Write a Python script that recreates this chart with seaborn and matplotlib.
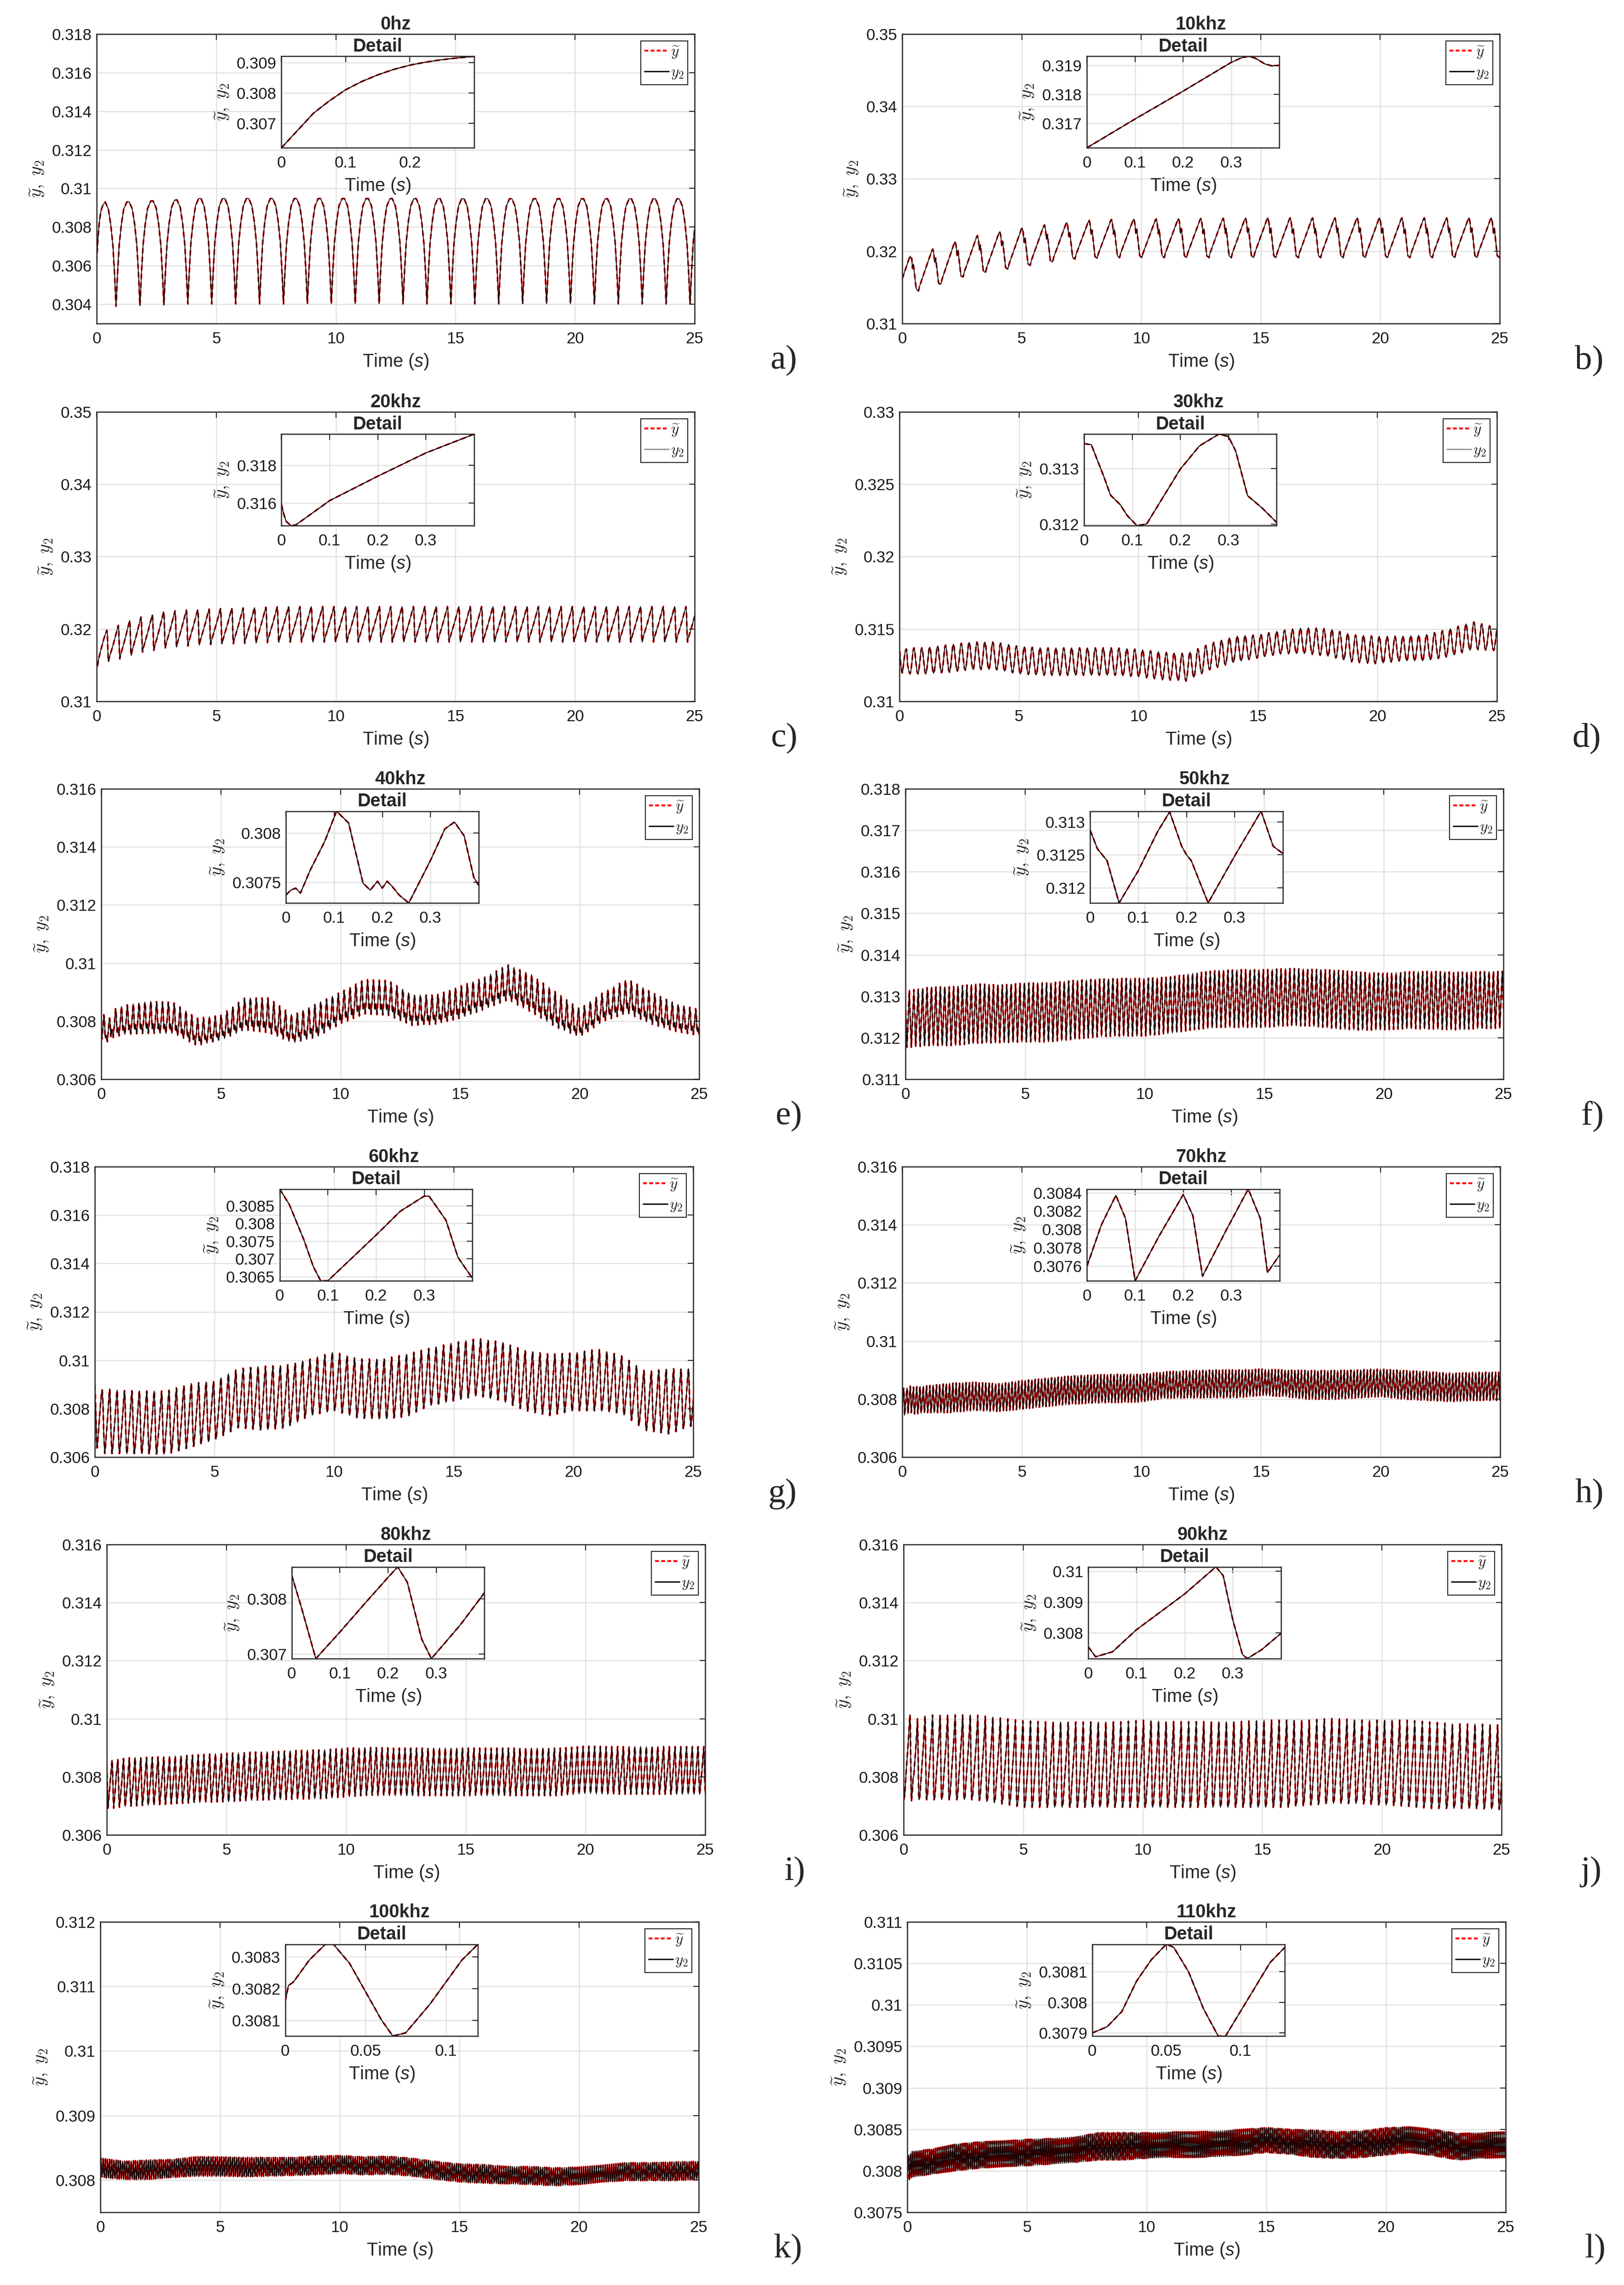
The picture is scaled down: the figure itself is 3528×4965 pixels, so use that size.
import numpy as np
import seaborn as sns
import matplotlib.pyplot as plt
from matplotlib.lines import Line2D
from matplotlib.ticker import FixedLocator, FuncFormatter

W, H, DPI = 3528, 4965, 300

titles = ['0hz', '10khz', '20khz', '30khz', '40khz', '50khz',
          '60khz', '70khz', '80khz', '90khz', '100khz', '110khz']
letters = ['a)', 'b)', 'c)', 'd)', 'e)', 'f)', 'g)', 'h)', 'i)', 'j)', 'k)', 'l)']

# ---- main axis limits / ticks ----
main_ylims = [(0.303, 0.318), (0.31, 0.35), (0.31, 0.35), (0.31, 0.33),
              (0.306, 0.316), (0.311, 0.318), (0.306, 0.318), (0.306, 0.316),
              (0.306, 0.316), (0.306, 0.316), (0.3075, 0.312), (0.3075, 0.311)]
main_yticks = [[0.304, 0.306, 0.308, 0.31, 0.312, 0.314, 0.316, 0.318],
               [0.31, 0.32, 0.33, 0.34, 0.35],
               [0.31, 0.32, 0.33, 0.34, 0.35],
               [0.31, 0.315, 0.32, 0.325, 0.33],
               [0.306, 0.308, 0.31, 0.312, 0.314, 0.316],
               [0.311, 0.312, 0.313, 0.314, 0.315, 0.316, 0.317, 0.318],
               [0.306, 0.308, 0.31, 0.312, 0.314, 0.316, 0.318],
               [0.306, 0.308, 0.31, 0.312, 0.314, 0.316],
               [0.306, 0.308, 0.31, 0.312, 0.314, 0.316],
               [0.306, 0.308, 0.31, 0.312, 0.314, 0.316],
               [0.308, 0.309, 0.31, 0.311, 0.312],
               [0.3075, 0.308, 0.3085, 0.309, 0.3095, 0.31, 0.3105, 0.311]]
time_ticks = [0, 5, 10, 15, 20, 25]

# ---- oscillation envelopes ----
a_up_t = [0, 1.3, 2.3, 3.3, 4.3, 25]
a_up = [0.3093, 0.3093, 0.30935, 0.3094, 0.30948, 0.30946]
a_lo_t = [0, 0.8, 1.8, 2.8, 3.8, 25]
a_lo = [0.3039, 0.3039, 0.30392, 0.30395, 0.30402, 0.30402]

b_up_t = [0, 0.4, 1.4, 2.3, 3.2, 4.1, 5.0, 5.9, 7.0, 8.0, 9.0, 12, 15, 25]
b_up = [0.3195, 0.3195, 0.3204, 0.3214, 0.3222, 0.3227, 0.3232, 0.3236, 0.324,
        0.3243, 0.3244, 0.3245, 0.3246, 0.3246]
b_lo_t = [0, 0.7, 1.7, 2.6, 3.4, 4.4, 5.3, 6.3, 7.2, 9, 25]
b_lo = [0.3145, 0.3145, 0.3155, 0.3165, 0.317, 0.3175, 0.318, 0.3185, 0.3189, 0.3191, 0.3191]

c_up_t = [0, 0.4, 0.9, 1.4, 1.9, 2.4, 2.8, 3.7, 5, 8, 25]
c_up = [0.3198, 0.3198, 0.3205, 0.3212, 0.3217, 0.322, 0.3224, 0.3226, 0.3228, 0.3231, 0.3231]
c_lo_t = [0, 0.5, 1, 1.5, 2, 2.5, 3, 4, 5, 8, 25]
c_lo = [0.3149, 0.3155, 0.3159, 0.3164, 0.3169, 0.3171, 0.3174, 0.3177, 0.3179, 0.3182, 0.3182]

seconds = list(range(26))
d_up = [0.3137, 0.3137, 0.3139, 0.3141, 0.3141, 0.3138, 0.3137, 0.3137, 0.3137, 0.3137,
        0.3136, 0.3134, 0.3133, 0.3140, 0.3145, 0.3146, 0.3149, 0.3151, 0.3150, 0.3146,
        0.3145, 0.3145, 0.3146, 0.3150, 0.3155, 0.3151]
d_lo = [0.3119, 0.3119, 0.3120, 0.3122, 0.3122, 0.3119, 0.3118, 0.3118, 0.3118, 0.3118,
        0.3117, 0.3115, 0.3114, 0.3122, 0.3127, 0.3130, 0.3133, 0.3133, 0.3131, 0.3127,
        0.3126, 0.3128, 0.3128, 0.3131, 0.3136, 0.3135]
e_up = [0.30825, 0.30855, 0.30868, 0.30865, 0.3081, 0.3082, 0.3088, 0.3088, 0.3082, 0.3086,
        0.3090, 0.30943, 0.3094, 0.3089, 0.3089, 0.3092, 0.3095, 0.30994, 0.3096, 0.3090,
        0.30842, 0.3090, 0.30945, 0.3090, 0.3086, 0.3084]
e_lo = [0.30732, 0.30755, 0.30758, 0.30758, 0.30716, 0.30735, 0.3077, 0.3076, 0.30725, 0.30745,
        0.3079, 0.30825, 0.3082, 0.30785, 0.3079, 0.3081, 0.3084, 0.30873, 0.3083, 0.3078,
        0.30745, 0.308, 0.30827, 0.3079, 0.30765, 0.3075]
f_up = [0.31311, 0.31322, 0.31323, 0.3133, 0.31327, 0.31332, 0.31332, 0.31338, 0.31341, 0.31343,
        0.31343, 0.31346, 0.31355, 0.31362, 0.31364, 0.31364, 0.31367, 0.31365, 0.31363, 0.31358,
        0.31355, 0.31359, 0.3136, 0.31358, 0.31359, 0.3136]
f_lo = [0.31176, 0.31181, 0.31181, 0.31187, 0.31188, 0.3119, 0.3119, 0.31196, 0.31202, 0.31204,
        0.31204, 0.3121, 0.31219, 0.31225, 0.31225, 0.31225, 0.31229, 0.31228, 0.31222, 0.31218,
        0.31219, 0.31222, 0.31221, 0.31219, 0.31222, 0.31223]
g_up = [0.30894, 0.30875, 0.30873, 0.30873, 0.30904, 0.30914, 0.30965, 0.30975, 0.3098, 0.31005,
        0.31035, 0.31005, 0.31005, 0.31025, 0.3105, 0.31073, 0.3109, 0.31075, 0.3104, 0.31025,
        0.3103, 0.31046, 0.3102, 0.30954, 0.30965, 0.30965]
g_lo = [0.30615, 0.30615, 0.30615, 0.30612, 0.30641, 0.30671, 0.30722, 0.30712, 0.30722, 0.30772,
        0.30792, 0.30762, 0.30757, 0.30767, 0.30813, 0.30833, 0.30854, 0.30833, 0.30792, 0.30772,
        0.30792, 0.30792, 0.30782, 0.30711, 0.30696, 0.30731]
h_up = [0.30837, 0.30845, 0.30854, 0.30858, 0.30852, 0.30863, 0.30871, 0.30879, 0.30883, 0.30885,
        0.30885, 0.30894, 0.30897, 0.309, 0.309, 0.30903, 0.309, 0.30898, 0.30898, 0.309,
        0.30903, 0.30898, 0.30894, 0.30888, 0.30892, 0.30892]
h_lo = [0.30744, 0.30753, 0.30753, 0.30761, 0.30757, 0.30765, 0.30774, 0.30782, 0.30786, 0.30788,
        0.3079, 0.30803, 0.30803, 0.30804, 0.30804, 0.30812, 0.30808, 0.30799, 0.30799, 0.30803,
        0.30808, 0.30799, 0.30795, 0.30791, 0.30795, 0.30795]
i_up = [0.30856, 0.30866, 0.30868, 0.30872, 0.30877, 0.30881, 0.30885, 0.30887, 0.30891, 0.30893,
        0.30899, 0.30901, 0.30899, 0.30899, 0.30899, 0.30899, 0.30899, 0.30899, 0.30899, 0.30899,
        0.30906, 0.30904, 0.30904, 0.30904, 0.30904, 0.30904]
i_lo = [0.30691, 0.30699, 0.30703, 0.30708, 0.30712, 0.30714, 0.30719, 0.30721, 0.30723, 0.30725,
        0.30731, 0.30737, 0.30735, 0.30735, 0.30735, 0.30735, 0.30735, 0.30735, 0.30735, 0.30735,
        0.30743, 0.3074, 0.3074, 0.3074, 0.3074, 0.3074]
j_up = [0.30982, 0.31013, 0.31013, 0.31013, 0.31003, 0.30993, 0.30989, 0.30989, 0.30989, 0.30989,
        0.30995, 0.3099, 0.3099, 0.3099, 0.3099, 0.30995, 0.30995, 0.30995, 0.31003, 0.30995,
        0.30995, 0.30995, 0.30989, 0.30982, 0.30982, 0.30978]
j_lo = [0.30721, 0.30721, 0.30721, 0.30721, 0.30708, 0.30695, 0.30695, 0.30695, 0.30695, 0.30695,
        0.30695, 0.30695, 0.30695, 0.30695, 0.30695, 0.30695, 0.30695, 0.30703, 0.30708, 0.30708,
        0.30703, 0.30699, 0.30691, 0.30691, 0.30691, 0.30687]
k_up = [0.30834, 0.30829, 0.30831, 0.30832, 0.30836, 0.30836, 0.30835, 0.30835, 0.30835, 0.30837,
        0.30838, 0.30836, 0.30837, 0.30834, 0.30829, 0.30825, 0.30824, 0.30821, 0.30821, 0.30819,
        0.3082, 0.30823, 0.30827, 0.30827, 0.30828, 0.30829]
k_lo = [0.30804, 0.30801, 0.30801, 0.30804, 0.30806, 0.30806, 0.30805, 0.30806, 0.30807, 0.30808,
        0.3081, 0.30808, 0.30809, 0.30806, 0.30801, 0.30797, 0.30795, 0.30794, 0.30793, 0.30791,
        0.30793, 0.30797, 0.30799, 0.30799, 0.30799, 0.30801]
l_up = [0.30823, 0.30826, 0.30832, 0.30835, 0.30836, 0.30838, 0.30839, 0.30841, 0.30846, 0.30846,
        0.30846, 0.30847, 0.30847, 0.30848, 0.3085, 0.30852, 0.3085, 0.30849, 0.30847, 0.30848,
        0.30852, 0.30853, 0.3085, 0.30845, 0.30846, 0.30847]
l_lo = [0.30791, 0.30796, 0.308, 0.30803, 0.30805, 0.30806, 0.30808, 0.3081, 0.30813, 0.30813,
        0.30815, 0.30816, 0.30816, 0.30817, 0.30819, 0.30822, 0.3082, 0.30816, 0.30815, 0.30816,
        0.30819, 0.30822, 0.30818, 0.30813, 0.30815, 0.30816]

# period (s) and time of first trough, counted on each panel
periods = [1.0, 0.935, 0.4747, 0.33, 0.245, 0.185, 0.31, 0.1375, 0.24, 0.315, 0.09, 0.08]
first_trough = [0.81, 0.68, 0.02, 0.11, 0.01, 0.06, 0.09, 0.10, 0.05, 0.015, 0.068, 0.085]

# one cycle's shape (phase from trough, level between lower and upper envelope)
a_shape_ph = [0, 0.06, 0.13, 0.22, 0.32, 0.45, 0.55, 0.68, 0.78, 0.87, 0.94, 1.0]
a_shape_lv = [0, 0.3, 0.58, 0.78, 0.93, 1.0, 1.0, 0.93, 0.78, 0.58, 0.3, 0]
b_shape_ph = [0, 0.05, 0.6, 0.64, 0.68, 0.73, 0.77, 0.9, 1.0]
b_shape_lv = [0, 0.12, 0.97, 1.0, 0.9, 0.62, 0.74, 0.05, 0]
c_shape_ph = [0, 0.04, 0.45, 0.86, 0.9, 0.97, 1.0]
c_shape_lv = [0, 0.08, 0.52, 1.0, 0.88, 0.12, 0]
d_shape_ph = [0, 0.1, 0.25, 0.4, 0.5, 0.6, 0.75, 0.9, 1.0]
d_shape_lv = [0, 0.08, 0.45, 0.9, 1.0, 0.9, 0.45, 0.08, 0]
e_shape_ph = [0, 0.08, 0.2, 0.39, 0.5, 0.61, 0.66, 0.72, 0.76, 0.8, 0.86, 0.92, 1.0]
e_shape_lv = [0, 0.2, 0.45, 1.0, 0.85, 0.22, 0.15, 0.3, 0.2, 0.3, 0.15, 0.12, 0]
f_shape_ph = [0, 0.08, 0.3, 0.5, 0.57, 0.63, 0.72, 0.8, 0.86, 0.95, 1.0]
f_shape_lv = [0, 0.15, 0.55, 0.93, 1.0, 0.9, 0.55, 0.48, 0.3, 0.05, 0]
g_shape_ph = [0, 0.05, 0.1, 0.4, 0.62, 0.7, 0.74, 0.8, 0.9, 1.0]
g_shape_lv = [0, 0.0, 0.05, 0.5, 0.88, 1.0, 0.98, 0.75, 0.3, 0]
h_shape_ph = [0, 0.1, 0.4, 0.62, 0.7, 0.76, 0.88, 1.0]
h_shape_lv = [0, 0.1, 0.55, 0.93, 1.0, 0.85, 0.3, 0]
i_shape_ph = [0, 0.1, 0.4, 0.65, 0.71, 0.76, 0.85, 0.95, 1.0]
i_shape_lv = [0, 0.12, 0.52, 0.92, 1.0, 0.9, 0.45, 0.05, 0]
j_shape_ph = [0, 0.12, 0.3, 0.6, 0.75, 0.79, 0.83, 0.9, 0.96, 1.0]
j_shape_lv = [0, 0.05, 0.3, 0.68, 0.92, 1.0, 0.9, 0.4, 0.05, 0]
kl_shape_ph = [0, 0.12, 0.3, 0.5, 0.56, 0.64, 0.8, 0.92, 1.0]
kl_shape_lv = [0, 0.08, 0.5, 0.95, 1.0, 0.92, 0.45, 0.08, 0]

# ---- inset ("Detail") curves ----
a_in_t = [0, 0.025, 0.05, 0.075, 0.1, 0.125, 0.15, 0.175, 0.2, 0.225, 0.25, 0.275, 0.3]
a_in_y = [0.3062, 0.30677, 0.30734, 0.30775, 0.30811, 0.30838, 0.3086, 0.30878, 0.30892,
          0.30902, 0.3091, 0.30916, 0.30921]
b_in_t = [0, 0.1, 0.2, 0.3, 0.32, 0.335, 0.35, 0.37, 0.385, 0.4]
b_in_y = [0.31616, 0.31715, 0.31811, 0.3191, 0.31925, 0.31931, 0.31925, 0.31905, 0.31898, 0.319]
c_in_t = [0, 0.005, 0.01, 0.02, 0.03, 0.1, 0.2, 0.3, 0.4]
c_in_y = [0.31594, 0.3154, 0.31503, 0.31481, 0.31485, 0.31613, 0.31742, 0.31865, 0.31964]
d_in_t = [0, 0.015, 0.04, 0.055, 0.075, 0.09, 0.11, 0.13, 0.2, 0.24, 0.28, 0.3, 0.315, 0.34,
          0.37, 0.4]
d_in_y = [0.31345, 0.31343, 0.31288, 0.31252, 0.31235, 0.31215, 0.31197, 0.312, 0.31299,
          0.31341, 0.31362, 0.31358, 0.31332, 0.31251, 0.31229, 0.31203]
e_in_t = [0, 0.01, 0.02, 0.03, 0.05, 0.08, 0.105, 0.13, 0.16, 0.175, 0.19, 0.2, 0.21, 0.22,
          0.235, 0.255, 0.3, 0.33, 0.35, 0.37, 0.39, 0.4]
e_in_y = [0.30737, 0.30742, 0.30744, 0.30739, 0.30762, 0.30791, 0.30822, 0.3081, 0.30749,
          0.30742, 0.30751, 0.30744, 0.30751, 0.30746, 0.30737, 0.30729, 0.30772, 0.30804,
          0.30811, 0.30797, 0.30755, 0.30747]
f_in_t = [0, 0.015, 0.025, 0.035, 0.06, 0.1, 0.14, 0.165, 0.19, 0.2, 0.21, 0.245, 0.3, 0.355,
          0.38, 0.4]
f_in_y = [0.31287, 0.31259, 0.3125, 0.31241, 0.31177, 0.31226, 0.31285, 0.31315, 0.31263,
          0.3125, 0.31241, 0.31177, 0.31248, 0.31316, 0.31263, 0.31252]
g_in_t = [0, 0.02, 0.05, 0.07, 0.085, 0.1, 0.2, 0.25, 0.3, 0.31, 0.345, 0.37, 0.4]
g_in_y = [0.30897, 0.30853, 0.30754, 0.30677, 0.30638, 0.30638, 0.30767, 0.30834, 0.30877,
          0.30877, 0.30809, 0.30704, 0.30645]
h_in_t = [0, 0.03, 0.06, 0.08, 0.1, 0.15, 0.2, 0.22, 0.24, 0.29, 0.335, 0.36, 0.375, 0.4]
h_in_y = [0.3076, 0.30805, 0.30837, 0.30812, 0.30744, 0.30793, 0.30838, 0.30815, 0.30749,
          0.308, 0.30844, 0.30812, 0.30753, 0.30772]
i_in_t = [0, 0.02, 0.05, 0.1, 0.15, 0.2, 0.22, 0.24, 0.27, 0.29, 0.35, 0.4]
i_in_y = [0.30843, 0.30785, 0.30692, 0.3074, 0.3079, 0.30839, 0.30858, 0.3083, 0.30727,
          0.30692, 0.30753, 0.30811]
j_in_t = [0, 0.015, 0.05, 0.1, 0.2, 0.25, 0.265, 0.28, 0.3, 0.32, 0.33, 0.36, 0.4]
j_in_y = [0.30754, 0.30722, 0.30738, 0.3081, 0.30926, 0.30994, 0.31014, 0.30986, 0.30842,
          0.3073, 0.30716, 0.30745, 0.30798]
k_in_t = [0, 0.002, 0.005, 0.015, 0.025, 0.03, 0.04, 0.05, 0.06, 0.067, 0.075, 0.09, 0.1,
          0.11, 0.12]
k_in_y = [0.30816, 0.30821, 0.30822, 0.30829, 0.30834, 0.30834, 0.30828, 0.30819, 0.3081,
          0.30805, 0.30806, 0.30815, 0.30822, 0.30829, 0.30834]
l_in_t = [0, 0.01, 0.02, 0.03, 0.04, 0.05, 0.055, 0.065, 0.075, 0.085, 0.09, 0.1, 0.11,
          0.12, 0.13]
l_in_y = [0.3079, 0.30792, 0.30797, 0.30807, 0.30814, 0.30819, 0.30818, 0.3081, 0.30798,
          0.30789, 0.30789, 0.30797, 0.30805, 0.30813, 0.30818]

inset_xlims = [0.3] + [0.4] * 9 + [0.12, 0.13]
inset_xticks = [[0, 0.1, 0.2]] + [[0, 0.1, 0.2, 0.3]] * 9 + [[0, 0.05, 0.1]] * 2
inset_yticks = [[0.307, 0.308, 0.309], [0.317, 0.318, 0.319], [0.316, 0.318],
                [0.312, 0.313], [0.3075, 0.308], [0.312, 0.3125, 0.313],
                [0.3065, 0.307, 0.3075, 0.308, 0.3085],
                [0.3076, 0.3078, 0.308, 0.3082, 0.3084], [0.307, 0.308],
                [0.308, 0.309, 0.31], [0.3081, 0.3082, 0.3083], [0.3079, 0.308, 0.3081]]

legend_y2_color = ['k', 'k', '0.6', '0.6', 'k', 'k', 'k', 'k', 'k', 'k', 'k', 'k']

# ---- layout (pixel boxes: left, right, top, bottom) ----
boxes = [(210, 1509, 74, 703), (1960, 3258, 74, 703),
         (210, 1509, 895, 1524), (1954, 3252, 895, 1524),
         (220, 1519, 1714, 2345), (1967, 3266, 1714, 2345),
         (206, 1506, 2535, 3166), (1960, 3259, 2535, 3166),
         (232, 1532, 3356, 3987), (1963, 3262, 3356, 3987),
         (218, 1518, 4176, 4807), (1971, 3271, 4176, 4807)]

uppers = [(a_up_t, a_up), (b_up_t, b_up), (c_up_t, c_up)] + \
         [(seconds, v) for v in (d_up, e_up, f_up, g_up, h_up, i_up, j_up, k_up, l_up)]
lowers = [(a_lo_t, a_lo), (b_lo_t, b_lo), (c_lo_t, c_lo)] + \
         [(seconds, v) for v in (d_lo, e_lo, f_lo, g_lo, h_lo, i_lo, j_lo, k_lo, l_lo)]
shapes = [(a_shape_ph, a_shape_lv), (b_shape_ph, b_shape_lv), (c_shape_ph, c_shape_lv),
          (d_shape_ph, d_shape_lv), (e_shape_ph, e_shape_lv), (f_shape_ph, f_shape_lv),
          (g_shape_ph, g_shape_lv), (h_shape_ph, h_shape_lv), (i_shape_ph, i_shape_lv),
          (j_shape_ph, j_shape_lv), (kl_shape_ph, kl_shape_lv), (kl_shape_ph, kl_shape_lv)]
insets = [(a_in_t, a_in_y), (b_in_t, b_in_y), (c_in_t, c_in_y), (d_in_t, d_in_y),
          (e_in_t, e_in_y), (f_in_t, f_in_y), (g_in_t, g_in_y), (h_in_t, h_in_y),
          (i_in_t, i_in_y), (j_in_t, j_in_y), (k_in_t, k_in_y), (l_in_t, l_in_y)]


def main_series(n):
    """inset samples at the start, then cycles of the read shape between the envelopes"""
    period, t0 = periods[n], first_trough[n]
    ph, lv = shapes[n]
    in_t, in_y = insets[n]
    ts, ys = list(in_t), list(in_y)
    k0 = int(np.floor(-t0 / period)) - 1
    k1 = int(np.ceil((25 - t0) / period)) + 1
    for k in range(k0, k1):
        for p, level in zip(ph[:-1], lv[:-1]):
            t = t0 + (k + p) * period
            if t <= in_t[-1] or t > 25.5:
                continue
            up = np.interp(t, *uppers[n])
            lo = np.interp(t, *lowers[n])
            ts.append(t)
            ys.append(lo + level * (up - lo))
    return np.array(ts), np.array(ys)


def num_fmt(v, pos):
    return f'{v:.5f}'.rstrip('0').rstrip('.')


sns.set_style('white')
plt.rcParams['font.family'] = ['Liberation Sans', 'DejaVu Sans']
plt.rcParams['mathtext.fontset'] = 'custom'
plt.rcParams['mathtext.rm'] = 'Liberation Sans'
plt.rcParams['mathtext.it'] = 'Liberation Sans:italic'

TICK_FS, LABEL_FS, TITLE_FS = 8.3, 9.5, 9.5
SPINE = '#262626'
GRID = '#e2e2e2'
YLABEL = r'$\widetilde{y},\ y_2$'
XLABEL = r'Time $\mathit{(s)}$'


def style_axes(ax, xticks, yticks):
    ax.xaxis.set_major_locator(FixedLocator(xticks))
    ax.yaxis.set_major_locator(FixedLocator(yticks))
    ax.xaxis.set_major_formatter(FuncFormatter(num_fmt))
    ax.yaxis.set_major_formatter(FuncFormatter(num_fmt))
    ax.tick_params(direction='in', length=3, width=0.5, top=True, right=True,
                   labelsize=TICK_FS, colors=SPINE, labelcolor='#1a1a1a')
    ax.tick_params(axis='y', pad=2.5)
    ax.tick_params(axis='x', pad=4)
    ax.grid(True, color=GRID, linewidth=0.6)
    ax.set_axisbelow(True)
    for sp in ax.spines.values():
        sp.set_color(SPINE)
        sp.set_linewidth(0.6)
        sp.set_visible(True)
    ax.set_xlabel(XLABEL, fontsize=LABEL_FS, math_fontfamily='custom', labelpad=3)
    ax.set_ylabel(YLABEL, fontsize=LABEL_FS, math_fontfamily='cm', labelpad=3)


def draw_pair(ax, t, y, black_lw):
    # reference (red dashed) underneath, measured y2 (black) on top
    sns.lineplot(x=t, y=y, ax=ax, color='red', linewidth=0.9, linestyle=(0, (3, 2)),
                 estimator=None, sort=False, errorbar=None)
    sns.lineplot(x=t, y=y, ax=ax, color='black', linewidth=black_lw,
                 estimator=None, sort=False, errorbar=None)


fig = plt.figure(figsize=(W / DPI, H / DPI), dpi=DPI)

for n in range(12):
    left, right, top, bottom = boxes[n]
    ax = fig.add_axes([left / W, 1 - bottom / H, (right - left) / W, (bottom - top) / H])
    ax.set_facecolor('white')

    t, y = main_series(n)
    draw_pair(ax, t, y, 0.42)
    ax.set_xlim(0, 25)
    ax.set_ylim(*main_ylims[n])
    style_axes(ax, time_ticks, main_yticks[n])
    ax.set_title(titles[n], fontsize=TITLE_FS, fontweight='bold', pad=2.5)

    handles = [Line2D([], [], color='red', linewidth=1.0, linestyle=(0, (2, 1.2))),
               Line2D([], [], color=legend_y2_color[n], linewidth=0.7)]
    leg = ax.legend(handles, [r'$\widetilde{y}$', r'$y_2$'], loc='upper right',
                    fontsize=8, frameon=True, fancybox=False, framealpha=1,
                    edgecolor=SPINE, borderaxespad=0.45, handlelength=1.6,
                    handletextpad=0.1, borderpad=0.25, labelspacing=0.35)
    leg.get_frame().set_linewidth(0.5)
    for txt in leg.get_texts():
        txt.set_math_fontfamily('cm')

    # inset
    it, iy = insets[n]
    ins = ax.inset_axes([0.309, 0.607, 0.322, 0.316])
    ins.set_facecolor('white')
    draw_pair(ins, it, iy, 0.5)
    ins.set_xlim(0, inset_xlims[n])
    ins.set_ylim(min(iy), max(iy))
    style_axes(ins, inset_xticks[n], inset_yticks[n])
    ins.set_title('Detail', fontsize=TITLE_FS, fontweight='bold', pad=2.5)

    fig.text((right + 194) / W, 1 - (bottom + 80) / H, letters[n], fontsize=18,
             family='Liberation Serif', ha='center', va='center')

fig.savefig('out.png', dpi=DPI)
